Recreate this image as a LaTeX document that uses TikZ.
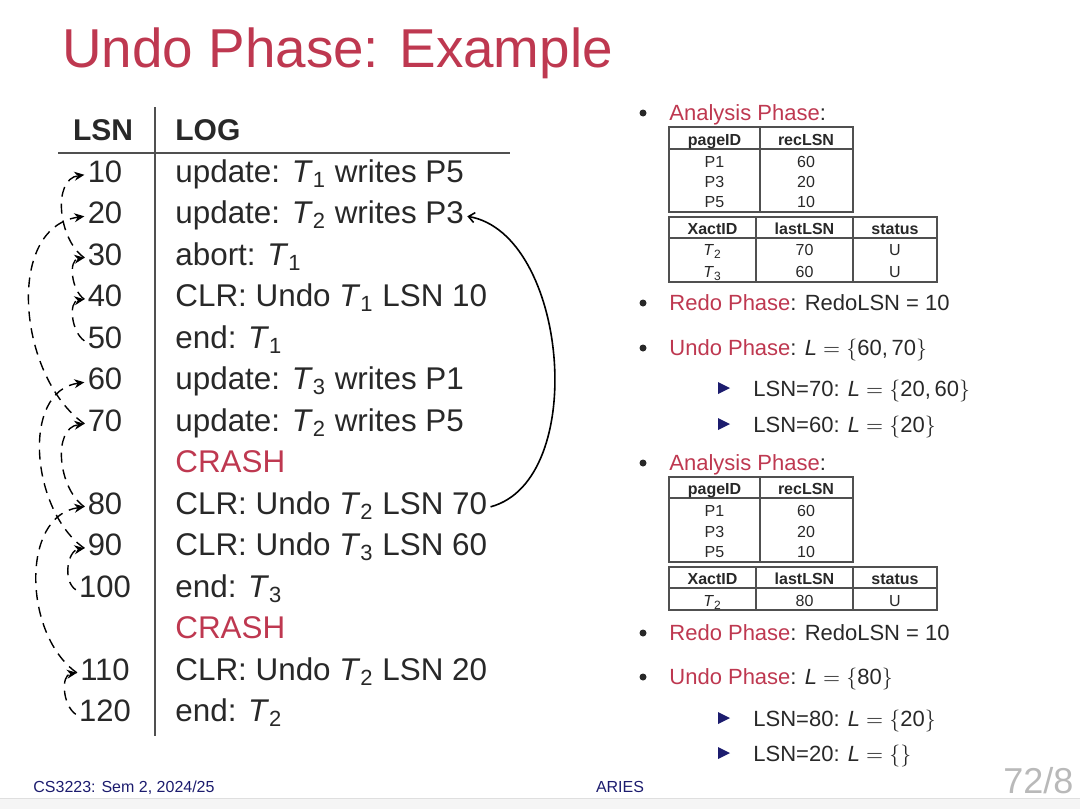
\documentclass[tikz,border=0pt]{standalone}
\usepackage{fontspec}
\setmainfont{Liberation Sans}
\usetikzlibrary{arrows.meta}
\definecolor{slidered}{RGB}{190,56,80}
\definecolor{slidetext}{RGB}{40,40,40}
\definecolor{slidenavy}{RGB}{28,28,110}
\definecolor{rulegray}{RGB}{80,80,80}
\newcommand{\Tn}[1]{\textit{T}\textsubscript{#1}}
\newcommand{\Lset}[1]{\textit{L}\kern.28em$=$\kern.28em$\{$#1$\}$}
\begin{document}
\begin{tikzpicture}[x=0.5pt,y=0.5pt,
  lsnnum/.style={anchor=base, inner sep=1.5pt, text height=0.72em, text depth=0pt,
    font=\fontsize{15.5}{18}\selectfont, text=slidetext},
  logtxt/.style={anchor=base west, inner sep=1.5pt, text height=0.72em, text depth=0pt,
    font=\fontsize{15.7}{18}\selectfont, text=slidetext},
  prevlsn/.style={dash pattern=on 5pt off 3.5pt, line width=0.7pt,
    -{Stealth[length=5pt,width=4.5pt]}, out=145, in=188},
  rightitem/.style={anchor=base west, inner sep=0pt, font=\fontsize{11}{13}\selectfont, text=slidetext},
  tblcell/.style={inner sep=0pt, text height=0.72em, text depth=0pt,
    font=\fontsize{8}{9}\selectfont, text=slidetext},
  tblhead/.style={tblcell, font=\fontsize{8}{9}\selectfont\bfseries},
  tblrule/.style={draw=rulegray, line width=0.65pt},
  bulletdot/.style={fill=slidetext},
  subbullet/.style={fill=slidenavy}]
  \useasboundingbox (0,0) rectangle (1080,-809);

  % 标题
  \node[anchor=base west, inner sep=0pt, font=\fontsize{27.4}{30}\selectfont, text=slidered]
    (title) at (62,-67) {Undo Phase: Example};

  % 日志表头与分隔线
  \node[lsnnum, font=\fontsize{15}{18}\selectfont\bfseries] (hlsn) at (103,-140) {LSN};
  \node[logtxt, font=\fontsize{15}{18}\selectfont\bfseries] (hlog) at (172,-140) {LOG};
  \draw[rulegray, line width=0.75pt] (155,-107) -- (155,-736);
  \draw[rulegray, line width=0.75pt] (58,-153) -- (510,-153);

  % 日志记录：行号/LSN/内容
  \foreach \row/\num/\txt in {0/10/{update: \Tn{1} writes P5}, 1/20/{update: \Tn{2} writes P3},
      2/30/{abort: \Tn{1}}, 3/40/{CLR: Undo \Tn{1} LSN 10}, 4/50/{end: \Tn{1}},
      5/60/{update: \Tn{3} writes P1}, 6/70/{update: \Tn{2} writes P5},
      8/80/{CLR: Undo \Tn{2} LSN 70}, 9/90/{CLR: Undo \Tn{3} LSN 60}, 10/100/{end: \Tn{3}},
      12/110/{CLR: Undo \Tn{2} LSN 20}, 13/120/{end: \Tn{2}}} {
    \node[lsnnum] (s\num) at (105,{-182-41.5*\row}) {\num};
    \node[logtxt] (l\num) at (172,{-182-41.5*\row}) {\txt};
  }
  \node[logtxt, text=slidered] (crashA) at (172,{-182-41.5*7}) {CRASH};
  \node[logtxt, text=slidered] (crashB) at (172,{-182-41.5*11}) {CRASH};

  % prevLSN 虚线链
  \foreach \from/\to in {30/10, 40/30, 50/40, 70/20, 80/70, 90/60, 100/90, 110/80, 120/110}
    \draw[prevlsn] (s\from.west) to (s\to.west);

  % CLR 指回被撤销的更新
  \draw[line width=0.8pt, -{Straight Barb[length=3pt,width=5pt]}]
    (l80.east) to[out=15, in=-10, looseness=0.9] (l20.east);

  % 右侧要点
  \foreach \b in {120,310,355,470,640,684}
    \fill[bulletdot] (643,{-\b+7}) circle (3.5);
  \foreach \b in {396,432,726,761}
    \fill[subbullet] (718,{-\b+14}) -- (730,{-\b+8}) -- (718,{-\b+2}) -- cycle;

  \node[rightitem] (anaA) at (669,-120) {{\color{slidered}Analysis Phase}:};
  \node[rightitem] (redoA) at (669,-310) {{\color{slidered}Redo Phase}: RedoLSN = 10};
  \node[rightitem] (undoA) at (669,-355) {{\color{slidered}Undo Phase}: \Lset{60,\,70}};
  \node[rightitem] (stepA) at (753,-396) {LSN=70: \Lset{20,\,60}};
  \node[rightitem] (stepB) at (753,-432) {LSN=60: \Lset{20}};
  \node[rightitem] (anaB) at (669,-470) {{\color{slidered}Analysis Phase}:};
  \node[rightitem] (redoB) at (669,-640) {{\color{slidered}Redo Phase}: RedoLSN = 10};
  \node[rightitem] (undoB) at (669,-684) {{\color{slidered}Undo Phase}: \Lset{80}};
  \node[rightitem] (stepC) at (753,-726) {LSN=80: \Lset{20}};
  \node[rightitem] (stepD) at (753,-761) {LSN=20: \Lset{}};

  % 第一次分析：脏页表
  \draw[tblrule] (669,-127) rectangle (853,-212);
  \draw[tblrule] (669,-149) -- (853,-149);
  \draw[tblrule] (760,-127) -- (760,-212);
  \node[tblhead] (pgA) at (714.5,-138) {pageID};
  \node[tblhead] (recA) at (806,-138) {recLSN};
  \foreach \p/\r/\y in {P1/60/160, P3/20/180, P5/10/200} {
    \node[tblcell] (pgA\p) at (714.5,-\y) {\p};
    \node[tblcell] (recA\p) at (806,-\y) {\r};
  }

  % 第一次分析：事务表
  \draw[tblrule] (669,-217) rectangle (937,-282);
  \draw[tblrule] (669,-238) -- (937,-238);
  \draw[tblrule] (756,-217) -- (756,-282);
  \draw[tblrule] (853,-217) -- (853,-282);
  \node[tblhead] (xidA) at (712.5,-227) {XactID};
  \node[tblhead] (lastA) at (804.5,-227) {lastLSN};
  \node[tblhead] (statA) at (895,-227) {status};
  \foreach \t/\l/\y in {2/70/248, 3/60/270} {
    \node[tblcell] (xidA\t) at (712.5,-\y) {\Tn{\t}};
    \node[tblcell] (lastA\t) at (804.5,-\y) {\l};
    \node[tblcell] (statA\t) at (895,-\y) {U};
  }

  % 第二次分析：脏页表
  \draw[tblrule] (669,-477) rectangle (853,-562);
  \draw[tblrule] (669,-498) -- (853,-498);
  \draw[tblrule] (760,-477) -- (760,-562);
  \node[tblhead] (pgB) at (714.5,-487) {pageID};
  \node[tblhead] (recB) at (806,-487) {recLSN};
  \foreach \p/\r/\y in {P1/60/509, P3/20/530, P5/10/550} {
    \node[tblcell] (pgB\p) at (714.5,-\y) {\p};
    \node[tblcell] (recB\p) at (806,-\y) {\r};
  }

  % 第二次分析：事务表
  \draw[tblrule] (669,-567) rectangle (937,-610);
  \draw[tblrule] (669,-588) -- (937,-588);
  \draw[tblrule] (756,-567) -- (756,-610);
  \draw[tblrule] (853,-567) -- (853,-610);
  \node[tblhead] (xidB) at (712.5,-577) {XactID};
  \node[tblhead] (lastB) at (804.5,-577) {lastLSN};
  \node[tblhead] (statB) at (895,-577) {status};
  \node[tblcell] (xidB2) at (712.5,-599) {\Tn{2}};
  \node[tblcell] (lastB2) at (804.5,-599) {80};
  \node[tblcell] (statB2) at (895,-599) {U};

  % 页脚
  \node[anchor=base west, inner sep=0pt, font=\fontsize{8}{9}\selectfont, text=slidenavy]
    (course) at (33,-792) {CS3223: Sem 2, 2024/25};
  \node[anchor=base, inner sep=0pt, font=\fontsize{8}{9}\selectfont, text=slidenavy]
    (topic) at (620,-792) {ARIES};
  \node[anchor=base west, inner sep=0pt, font=\fontsize{18}{20}\selectfont, text=gray!55]
    (page) at (1003,-793) {72/8};
  \fill[gray!8] (0,-798) rectangle (1080,-809);
  \draw[gray!25, line width=0.5pt] (0,-798) -- (1080,-798);
\end{tikzpicture}
\end{document}
